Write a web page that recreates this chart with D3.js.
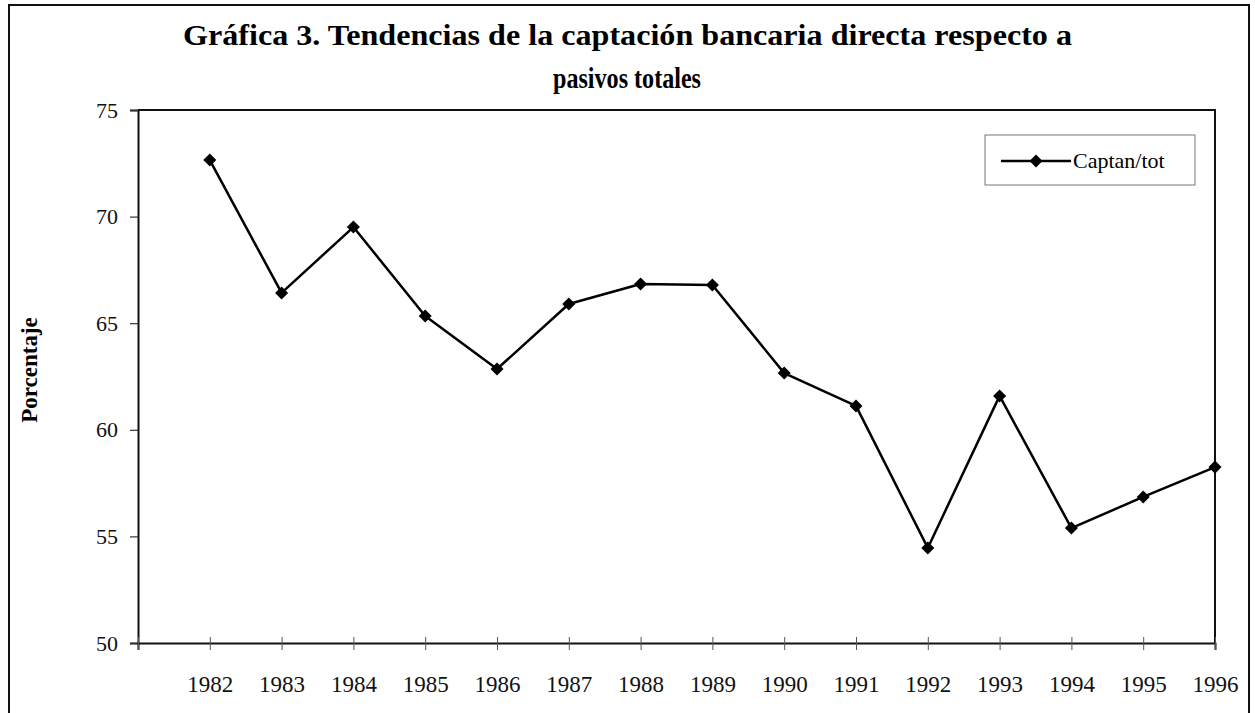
<!DOCTYPE html>
<html>
<head>
<meta charset="utf-8">
<script src="https://cdn.jsdelivr.net/npm/d3@7"></script>
<style>
  body { margin: 0; background: #fff; }
  svg { display: block; }
  svg text { font-family: "Liberation Serif", "Times New Roman", serif; }
</style>
</head>
<body>
<svg id="chart" width="1255" height="713"></svg>
<script>
// Data
var years = [1982, 1983, 1984, 1985, 1986, 1987, 1988, 1989, 1990, 1991, 1992, 1993, 1994, 1995, 1996];
var captanTot = [72.65, 66.42, 69.51, 65.34, 62.85, 65.9, 66.84, 66.79, 62.66, 61.12, 54.46, 61.59, 55.39, 56.85, 58.25];
var yTicks = [50, 55, 60, 65, 70, 75];
var seriesName = "Captan/tot";
var titleLines = ["Gráfica 3.  Tendencias de la captación bancaria directa respecto a", "pasivos totales"];
var yLabel = "Porcentaje";

var serif = "'Liberation Serif', 'Times New Roman', serif";
var svg = d3.select("#chart");
var plot = { left: 138, top: 110, right: 1215, bottom: 643 };

// Outer frame (bottom edge runs off the page)
svg.append("rect")
  .attr("x", 9).attr("y", 5)
  .attr("width", 1240).attr("height", 720)
  .attr("fill", "none").attr("stroke", "#111").attr("stroke-width", 2);

// Title
svg.append("text")
  .attr("x", 627.5).attr("y", 45)
  .attr("text-anchor", "middle")
  .style("font-family", serif)
  .attr("font-weight", "bold").attr("font-size", 30)
  .attr("textLength", 889).attr("lengthAdjust", "spacingAndGlyphs")
  .text(titleLines[0]);
svg.append("text")
  .attr("x", 627).attr("y", 88)
  .attr("text-anchor", "middle")
  .style("font-family", serif)
  .attr("font-weight", "bold").attr("font-size", 30)
  .attr("textLength", 148).attr("lengthAdjust", "spacingAndGlyphs")
  .text(titleLines[1]);

// Scales
var x = d3.scaleLinear().domain([years[0] - 1, years[years.length - 1]]).range([plot.left, plot.right]);
var y = d3.scaleLinear().domain([50, 75]).range([plot.bottom, plot.top]);

// Plot area top/right border
svg.append("path")
  .attr("d", `M${plot.left},${plot.top}H${plot.right}V${plot.bottom}`)
  .attr("fill", "none").attr("stroke", "#111").attr("stroke-width", 2);

// Y axis
var yAxis = svg.append("g")
  .attr("transform", `translate(${plot.left},0)`)
  .call(d3.axisLeft(y).tickValues(yTicks).tickSize(8).tickPadding(12).tickFormat(d3.format("d")));
yAxis.select(".domain").attr("stroke", "#111").attr("stroke-width", 2);
yAxis.selectAll(".tick line").attr("stroke", "#333").attr("stroke-width", 1.2);
yAxis.selectAll(".tick text")
  .style("font-family", serif)
  .attr("font-size", 22).attr("fill", "#111");

// X axis
var xAxis = svg.append("g")
  .attr("transform", `translate(0,${plot.bottom})`)
  .call(d3.axisBottom(x).tickValues([years[0] - 1].concat(years)).tickSize(7)
    .tickFormat(d => (d < years[0] ? "" : d)));
xAxis.select(".domain").attr("stroke", "#111").attr("stroke-width", 2);
xAxis.selectAll(".tick line").attr("y1", -6).attr("stroke", "#555").attr("stroke-width", 1);
xAxis.selectAll(".tick text")
  .attr("y", 49).attr("dy", null)
  .style("font-family", serif)
  .attr("font-size", 23).attr("fill", "#111");

// Y axis label
svg.append("text")
  .attr("transform", "translate(37,370) rotate(-90)")
  .attr("text-anchor", "middle")
  .style("font-family", serif)
  .attr("font-weight", "bold").attr("font-size", 23)
  .text(yLabel);

// Series line
var data = years.map((yr, i) => ({ year: yr, value: captanTot[i] }));
var line = d3.line().x(d => x(d.year)).y(d => y(d.value));
svg.append("path")
  .datum(data)
  .attr("d", line)
  .attr("fill", "none").attr("stroke", "#000").attr("stroke-width", 2.5)
  .attr("stroke-linejoin", "round");

// Diamond markers
var diamond = d3.symbol().type(d3.symbolSquare).size(85);
svg.selectAll(".marker")
  .data(data)
  .enter()
  .append("path")
  .attr("class", "marker")
  .attr("d", diamond)
  .attr("transform", d => `translate(${x(d.year)},${y(d.value)}) rotate(45)`)
  .attr("fill", "#000");

// Legend
var legend = svg.append("g").attr("transform", "translate(985,135)");
legend.append("rect")
  .attr("width", 210).attr("height", 50)
  .attr("fill", "#fff").attr("stroke", "#777").attr("stroke-width", 1);
legend.append("line")
  .attr("x1", 16).attr("x2", 86).attr("y1", 26).attr("y2", 26)
  .attr("stroke", "#000").attr("stroke-width", 2.5);
legend.append("path")
  .attr("d", diamond)
  .attr("transform", "translate(51,26) rotate(45)")
  .attr("fill", "#000");
legend.append("text")
  .attr("x", 88).attr("y", 33)
  .style("font-family", serif)
  .attr("font-size", 22)
  .text(seriesName);
</script>
</body>
</html>
